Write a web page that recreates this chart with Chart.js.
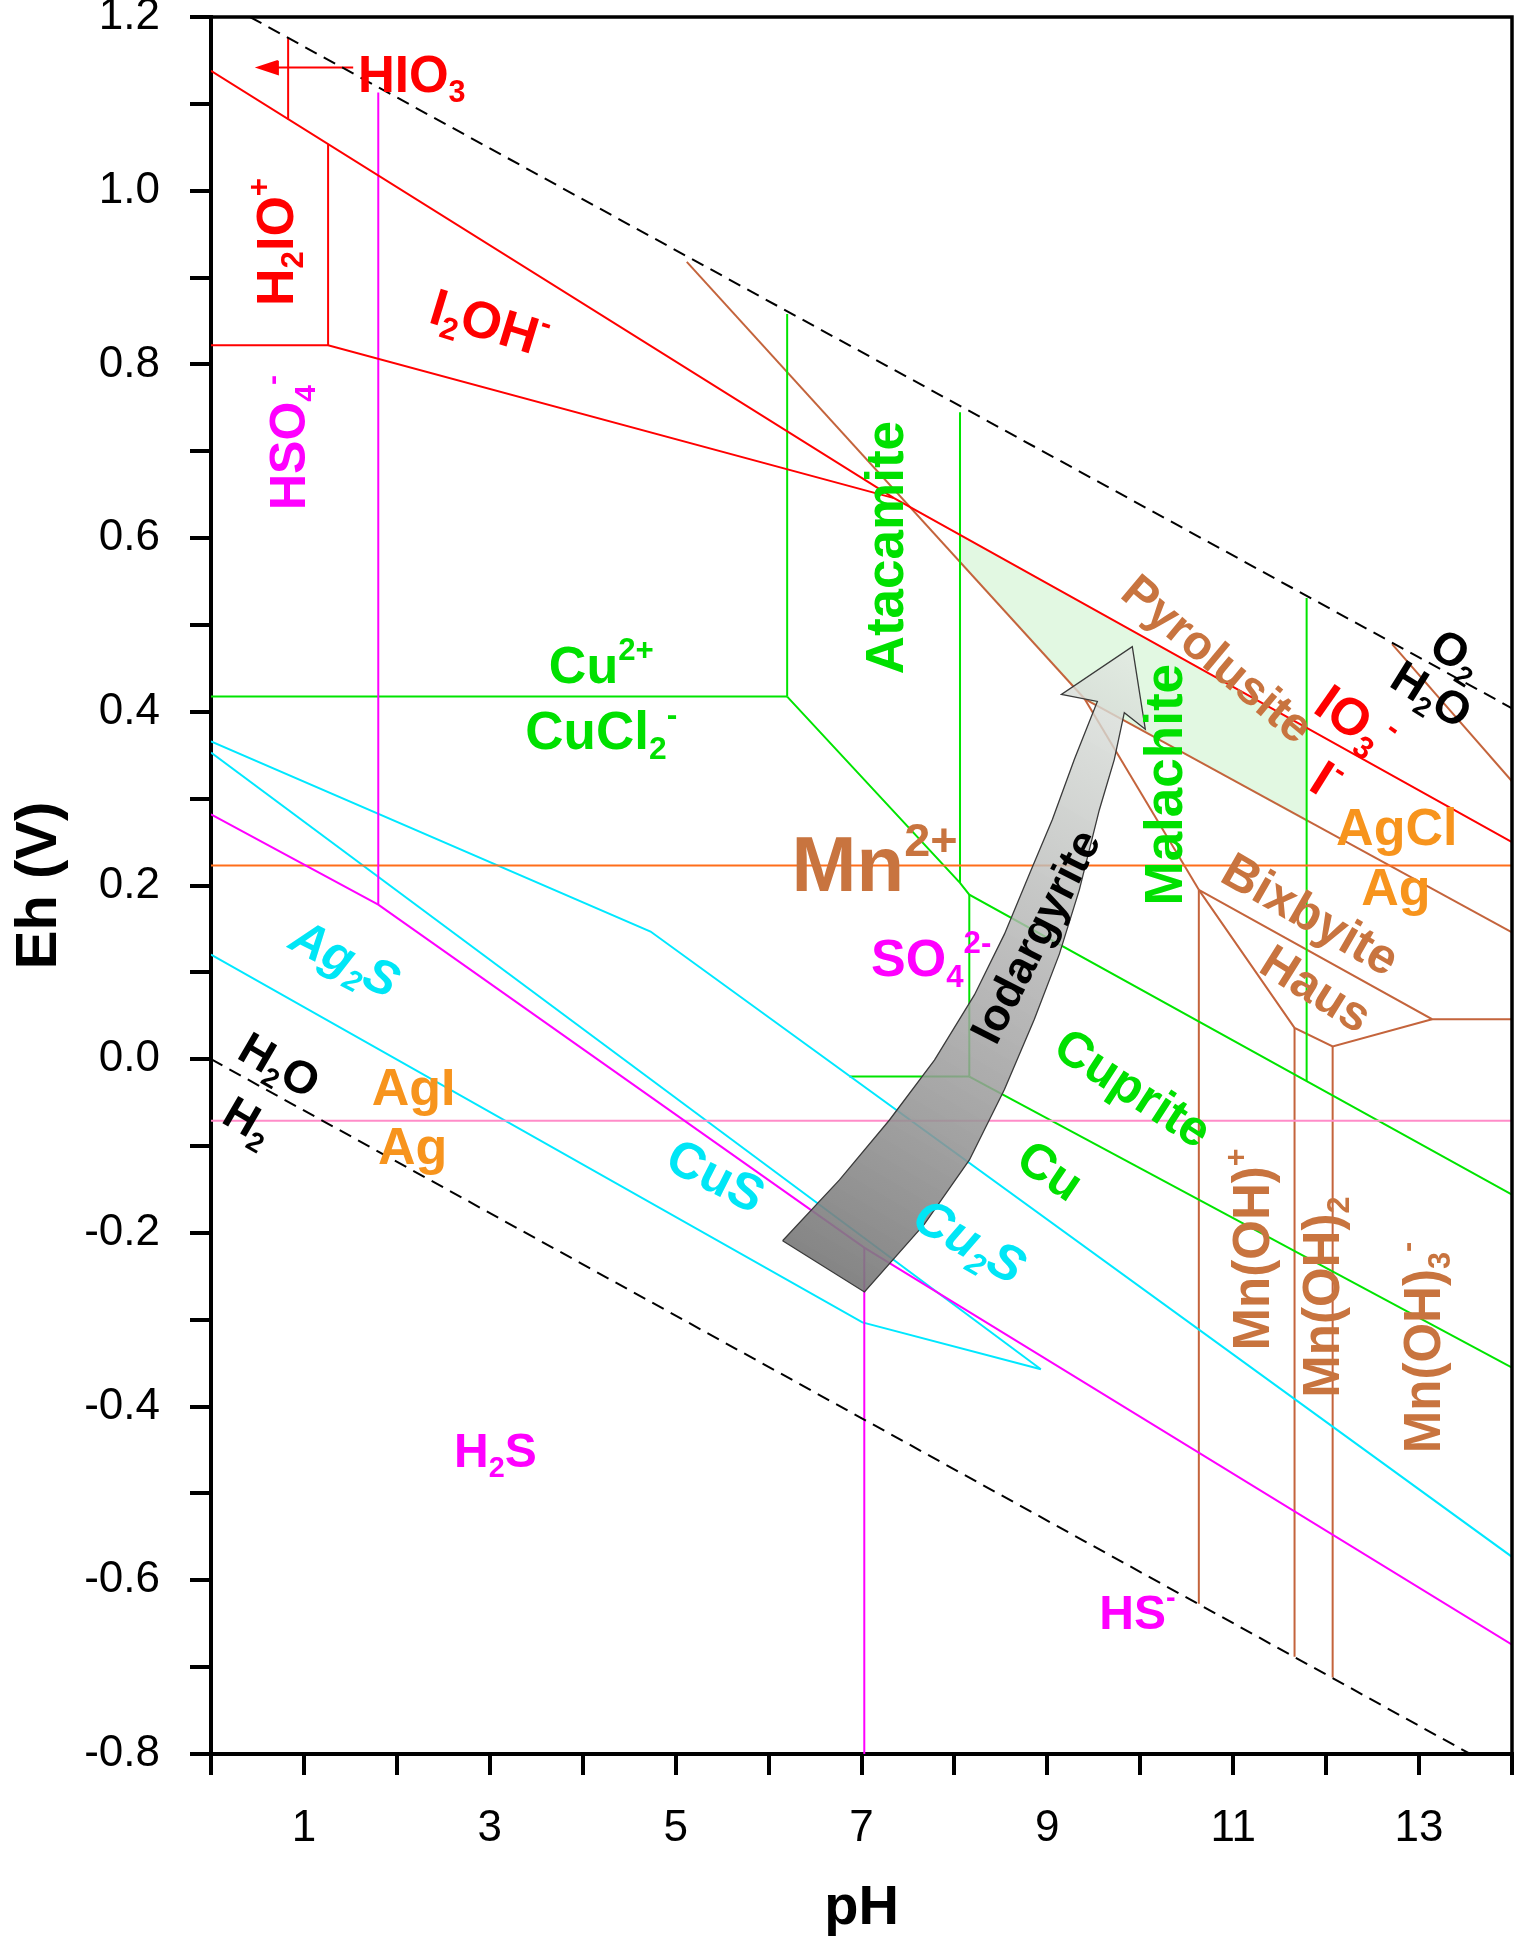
<!DOCTYPE html>
<html>
<head>
<meta charset="utf-8">
<script src="https://cdn.jsdelivr.net/npm/chart.js@4.4.1/dist/chart.umd.min.js"></script>
<style>html,body{margin:0;padding:0;background:#fff}canvas{display:block}</style>
</head>
<body>
<canvas id="c" width="1515" height="1944"></canvas>
<script>
// ---------------- data (pH, Eh in V) ----------------
const pHRange = [0, 14];
const EhRange = [-0.8, 1.2];
const pHTickLabels = [1, 3, 5, 7, 9, 11, 13];
const EhTickLabels = [-0.8, -0.6, -0.4, -0.2, 0.0, 0.2, 0.4, 0.6, 0.8, 1.0, 1.2];

// water stability limits (dashed)
const waterO2 = [[0.42, 1.2], [14, 0.404]];
const waterH2 = [[0, 0], [13.55, -0.8]];

// iodine (red)
const iodineUpper = [[0, 1.138], [7.35, 0.646], [14, 0.250]];
const iodineLower = [[0, 0.822], [1.26, 0.822], [7.35, 0.646]];
const iodineH2IO = [[1.26, 0.822], [1.26, 1.054]];
const iodineHIO3 = [[0.83, 1.082], [0.83, 1.176]];
const iodineArrowShaft = [[1.53, 1.1418], [0.52, 1.1418]];
const iodineArrowHead = [[0.72, 1.1495], [0.505, 1.1418], [0.72, 1.1341], [0.72, 1.1495]];

// sulfur (magenta)
const sulfurHSO4 = [[1.80, 1.113], [1.80, 0.178]];
const sulfurSO4 = [[0, 0.282], [1.80, 0.178], [7.03, -0.217], [14, -0.674]];
const sulfurH2S = [[7.03, -0.217], [7.03, -0.8]];

// silver halides
const silverAgCl = [[0, 0.223], [14, 0.223]];
const silverAgI = [[0, -0.071], [14, -0.071]];

// sulfides (cyan)
const sulfideA = [[0, 0.366], [4.73, 0.147], [14, -0.573]];
const sulfideB = [[0, 0.353], [8.93, -0.357]];
const sulfideC = [[0, 0.1205], [7.01, -0.303], [8.93, -0.357]];

// copper (green)
const copperCu2 = [[0, 0.4175], [6.20, 0.4175]];
const copperAtacLeft = [[6.20, 0.4175], [6.20, 0.858]];
const copperDiag = [[6.20, 0.4175], [8.06, 0.203], [8.16, 0.1895], [14, -0.156]];
const copperAtacRight = [[8.06, 0.203], [8.06, 0.745]];
const copperV816 = [[8.16, 0.1895], [8.16, -0.020]];
const copperH = [[6.87, -0.020], [8.16, -0.020]];
const copperCu = [[8.16, -0.020], [14, -0.355]];
const copperMalRight = [[11.79, 0.531], [11.79, -0.025]];

// manganese (brown)
const mnPyroMn2 = [[5.12, 0.918], [9.40, 0.415]];
const mnBixMn2 = [[9.40, 0.415], [10.63, 0.195]];
const mnPyroBix = [[9.40, 0.415], [14, 0.146]];
const mnBixHaus = [[10.63, 0.195], [13.14, 0.046], [14, 0.046]];
const mnHausLow = [[10.63, 0.195], [11.66, 0.036], [12.07, 0.0146], [13.14, 0.046]];
const mnV1 = [[10.63, 0.195], [10.63, -0.627]];
const mnV2 = [[11.66, 0.036], [11.66, -0.688]];
const mnV3 = [[12.07, 0.0146], [12.07, -0.712]];
const mnTop = [[12.71, 0.478], [14, 0.320]];

// shaded malachite/pyrolusite field
const greenZone = [[8.06, 0.6035], [11.79, 0.3816], [11.79, 0.2733], [9.40, 0.415], [8.06, 0.571], [8.06, 0.6035]];

// iodargyrite arrow outline
const arrowShape = [
  [6.151, -0.209], [6.763, -0.139], [7.301, -0.070], [7.785, -0.001], [8.215, 0.074], [8.538, 0.144],
  [8.806, 0.213], [9.054, 0.276], [9.290, 0.345], [9.538, 0.412],
  [9.151, 0.420], [9.914, 0.475], [10.054, 0.380], [9.828, 0.399],
  [9.720, 0.345], [9.559, 0.287], [9.344, 0.195], [9.129, 0.121], [8.860, 0.046], [8.538, -0.035],
  [8.161, -0.116], [7.677, -0.190], [7.032, -0.268], [6.151, -0.209]
];
const arrowTipIndex = 11;

// field labels
const fieldLabels = [
  {t: 'HIO_{3}', pH: 2.16, Eh: 1.135, rot: 0, s: 51, c: 'red'},
  {t: 'H_{2}IO^{+}', pH: 0.677, Eh: 0.941, rot: -90, s: 52, c: 'red'},
  {t: 'I_{2}OH^{-}', pH: 3.0, Eh: 0.849, rot: 17, s: 52, c: 'red'},
  {t: 'HSO_{4}^{-}', pH: 0.817, Eh: 0.71, rot: -90, s: 50, c: 'mag'},
  {t: 'Cu^{2+}', pH: 4.20, Eh: 0.4546, rot: 0, s: 52, c: 'green'},
  {t: 'CuCl_{2}^{-}', pH: 4.20, Eh: 0.3795, rot: 0, s: 53, c: 'green'},
  {t: 'Atacamite', pH: 7.24, Eh: 0.589, rot: -90, s: 53, c: 'green'},
  {t: 'Malachite', pH: 10.24, Eh: 0.316, rot: -90, s: 53, c: 'green'},
  {t: 'Pyrolusite', pH: 10.84, Eh: 0.462, rot: 40, s: 48, c: 'brown'},
  {t: 'IO_{3}^{-}', pH: 12.32, Eh: 0.391, rot: 35, s: 52, c: 'red'},
  {t: 'I^{-}', pH: 12.01, Eh: 0.322, rot: 32, s: 52, c: 'red'},
  {t: 'O_{2}', pH: 13.41, Eh: 0.468, rot: 32, s: 46, c: 'black'},
  {t: 'H_{2}O', pH: 13.14, Eh: 0.421, rot: 32, s: 46, c: 'black'},
  {t: 'AgCl', pH: 12.76, Eh: 0.2676, rot: 0, s: 52, c: 'orange'},
  {t: 'Ag', pH: 12.75, Eh: 0.199, rot: 0, s: 52, c: 'orange'},
  {t: 'Bixbyite', pH: 11.84, Eh: 0.168, rot: 30, s: 50, c: 'brown'},
  {t: 'Haus', pH: 11.90, Eh: 0.0824, rot: 32, s: 49, c: 'brown'},
  {t: 'Mn^{2+}', pH: 7.14, Eh: 0.226, rot: 0, s: 78, c: 'brown'},
  {t: 'SO_{4}^{2-}', pH: 7.75, Eh: 0.117, rot: 0, s: 52, c: 'mag'},
  {t: 'Iodargyrite', pH: 8.86, Eh: 0.142, rot: -63, s: 45, c: 'black'},
  {t: 'Cuprite', pH: 9.93, Eh: -0.032, rot: 33, s: 50, c: 'green'},
  {t: 'Cu', pH: 9.04, Eh: -0.127, rot: 34, s: 50, c: 'green'},
  {t: 'Ag_{2}S', pH: 1.45, Eh: 0.117, rot: 27, s: 49, c: 'cyan', it: true},
  {t: 'H_{2}O', pH: 0.742, Eh: -0.006, rot: 30, s: 46, c: 'black'},
  {t: 'H_{2}', pH: 0.409, Eh: -0.0697, rot: 30, s: 46, c: 'black'},
  {t: 'AgI', pH: 2.18, Eh: -0.0317, rot: 0, s: 52, c: 'orange'},
  {t: 'Ag', pH: 2.17, Eh: -0.0997, rot: 0, s: 52, c: 'orange'},
  {t: 'CuS', pH: 5.44, Eh: -0.133, rot: 27, s: 51, c: 'cyan'},
  {t: 'Cu_{2}S', pH: 8.17, Eh: -0.208, rot: 30, s: 51, c: 'cyan', it: true},
  {t: 'H_{2}S', pH: 3.06, Eh: -0.450, rot: 0, s: 48, c: 'mag'},
  {t: 'HS^{-}', pH: 9.97, Eh: -0.636, rot: 0, s: 48, c: 'mag'},
  {t: 'Mn(OH)^{+}', pH: 11.19, Eh: -0.219, rot: -90, s: 51, c: 'brown'},
  {t: 'Mn(OH)_{2}', pH: 11.94, Eh: -0.274, rot: -90, s: 51, c: 'brown'},
  {t: 'Mn(OH)_{3}^{-}', pH: 13.03, Eh: -0.332, rot: -90, s: 51, c: 'brown'}
];

// ---------------- styles ----------------
const FONT = '"Liberation Sans", Arial, Helvetica, sans-serif';
const LINE_COL = {
  water: '#000000', red: '#ff0000', mag: '#ff00ff', cyan: '#00e8ff', green: '#00e400',
  brown: '#c4643c', orange: '#ff6e1a', pink: '#ff8cc8'
};
const TEXT_COL = {
  red: '#ff0000', mag: '#ff00ff', cyan: '#00e6f6', green: '#00e000', brown: '#c8743f',
  orange: '#f7941d', black: '#000000'
};

const boundaries = [
  {d: waterO2, c: 'water', dash: true}, {d: waterH2, c: 'water', dash: true},
  {d: iodineUpper, c: 'red'}, {d: iodineLower, c: 'red'}, {d: iodineH2IO, c: 'red'},
  {d: iodineHIO3, c: 'red'}, {d: iodineArrowShaft, c: 'red'}, {d: iodineArrowHead, c: 'red', fill: true},
  {d: sulfurHSO4, c: 'mag'}, {d: sulfurSO4, c: 'mag'}, {d: sulfurH2S, c: 'mag'},
  {d: silverAgCl, c: 'orange'}, {d: silverAgI, c: 'pink'},
  {d: sulfideA, c: 'cyan'}, {d: sulfideB, c: 'cyan'}, {d: sulfideC, c: 'cyan'},
  {d: copperCu2, c: 'green'}, {d: copperAtacLeft, c: 'green'}, {d: copperDiag, c: 'green'},
  {d: copperAtacRight, c: 'green'}, {d: copperV816, c: 'green'}, {d: copperH, c: 'green'},
  {d: copperCu, c: 'green'}, {d: copperMalRight, c: 'green'},
  {d: mnPyroMn2, c: 'brown'}, {d: mnBixMn2, c: 'brown'}, {d: mnPyroBix, c: 'brown'},
  {d: mnBixHaus, c: 'brown'}, {d: mnHausLow, c: 'brown'}, {d: mnV1, c: 'brown'},
  {d: mnV2, c: 'brown'}, {d: mnV3, c: 'brown'}, {d: mnTop, c: 'brown'}
];

const toXY = arr => arr.map(([x, y]) => ({x, y}));

const datasets = [];
datasets.push({
  data: toXY(arrowShape), order: 1, fill: 'shape', tension: 0, pointRadius: 0,
  borderColor: '#3a3a3a', borderWidth: 1.3,
  backgroundColor(ctx) {
    const ch = ctx.chart, sx = ch.scales.x, sy = ch.scales.y;
    if (!sx || !sy || !ch.chartArea) return 'rgba(160,160,160,0.8)';
    const a = arrowShape[0], b = arrowShape[arrowTipIndex];
    const g = ch.ctx.createLinearGradient(sx.getPixelForValue(a[0]), sy.getPixelForValue(a[1]),
                                          sx.getPixelForValue(b[0]), sy.getPixelForValue(b[1]));
    g.addColorStop(0, 'rgba(120,120,120,0.9)');
    g.addColorStop(0.5, 'rgba(172,172,172,0.82)');
    g.addColorStop(1, 'rgba(226,232,226,0.8)');
    return g;
  }
});
boundaries.forEach(b => datasets.push({
  data: toXY(b.d), order: 10, fill: b.fill ? 'shape' : false, tension: 0, pointRadius: 0,
  backgroundColor: LINE_COL[b.c],
  borderColor: LINE_COL[b.c], borderWidth: 2,
  borderDash: b.dash ? [13, 8] : []
}));
datasets.push({
  data: toXY(greenZone), order: 100, fill: 'shape', tension: 0, pointRadius: 0,
  borderWidth: 0, borderColor: 'rgba(0,0,0,0)', backgroundColor: '#e2f8e2'
});

function parseRich(str) {
  const out = [];
  const re = /([_^])\{([^}]*)\}|([^_^]+)/g;
  let m;
  while ((m = re.exec(str))) {
    if (m[3]) out.push([m[3], 0]);
    else out.push([m[2], m[1] === '_' ? -1 : 1]);
  }
  return out;
}

function drawRich(ctx, lab, x, y) {
  const segs = parseRich(lab.t);
  const size = lab.s;
  const font = s => `${lab.it ? 'italic ' : ''}bold ${s}px ${FONT}`;
  ctx.save();
  ctx.translate(x, y);
  ctx.rotate(lab.rot * Math.PI / 180);
  ctx.fillStyle = TEXT_COL[lab.c];
  ctx.textAlign = 'left';
  ctx.textBaseline = 'alphabetic';
  let w = 0;
  const parts = segs.map(([t, k]) => {
    const s = k === 0 ? size : size * 0.6;
    ctx.font = font(s);
    const mw = ctx.measureText(t).width;
    w += mw;
    return {t, k, s, mw};
  });
  let cx = -w / 2;
  const base = size * 0.716 / 2;
  parts.forEach(p => {
    ctx.font = font(p.s);
    const dy = p.k === 0 ? 0 : (p.k < 0 ? size * 0.2 : -size * 0.45);
    ctx.fillText(p.t, cx, base + dy);
    cx += p.mw;
  });
  ctx.restore();
}

const labelPlugin = {
  id: 'labels',
  afterDatasetsDraw(chart) {
    const {ctx, chartArea: a, scales: {x, y}} = chart;
    ctx.save();
    ctx.strokeStyle = '#000';
    ctx.lineWidth = 3.5;
    ctx.beginPath();
    ctx.moveTo(a.left, a.top);
    ctx.lineTo(a.right, a.top);
    ctx.lineTo(a.right, a.bottom);
    ctx.stroke();
    ctx.restore();
    fieldLabels.forEach(l => drawRich(ctx, l, x.getPixelForValue(l.pH), y.getPixelForValue(l.Eh)));
  }
};

new Chart(document.getElementById('c'), {
  type: 'line',
  data: {datasets},
  plugins: [labelPlugin],
  options: {
    responsive: false,
    animation: false,
    devicePixelRatio: 1,
    layout: {padding: {left: 0, right: 3, top: 17, bottom: 0}},
    plugins: {legend: {display: false}, tooltip: {enabled: false}},
    elements: {line: {borderCapStyle: 'butt', borderJoinStyle: 'miter'}},
    scales: {
      x: {
        type: 'linear', min: pHRange[0], max: pHRange[1],
        afterFit(s) { s.height = 190; s.paddingLeft = 0; s.paddingRight = 0; },
        border: {display: true, width: 4, color: '#000'},
        grid: {drawOnChartArea: false, drawTicks: true, tickLength: 21, tickWidth: 4, lineWidth: 4, color: '#000', tickColor: '#000'},
        ticks: {
          stepSize: 1, autoSkip: false, maxRotation: 0, padding: 27, color: '#000',
          font: {family: FONT, size: 44},
          callback: v => pHTickLabels.includes(Math.round(v)) ? String(Math.round(v)) : ''
        },
        title: {display: true, text: 'pH', color: '#000', font: {family: FONT, size: 56, weight: 'bold'}, padding: {top: 0, bottom: 2}}
      },
      y: {
        type: 'linear', min: EhRange[0], max: EhRange[1],
        afterFit(s) { s.width = 211; s.paddingTop = 0; s.paddingBottom = 0; },
        border: {display: true, width: 4, color: '#000'},
        grid: {drawOnChartArea: false, drawTicks: true, tickLength: 21, tickWidth: 4, lineWidth: 4, color: '#000', tickColor: '#000'},
        ticks: {
          stepSize: 0.1, autoSkip: false, padding: 30, color: '#000',
          font: {family: FONT, size: 44},
          callback: v => {
            const r = Math.round(v * 10) / 10;
            return EhTickLabels.some(t => Math.abs(t - r) < 1e-6) ? r.toFixed(1) : '';
          }
        },
        title: {display: true, text: 'Eh (V)', color: '#000', font: {family: FONT, size: 58, weight: 'bold'}, padding: {top: 5, bottom: 0}}
      }
    }
  }
});
</script>
</body>
</html>
